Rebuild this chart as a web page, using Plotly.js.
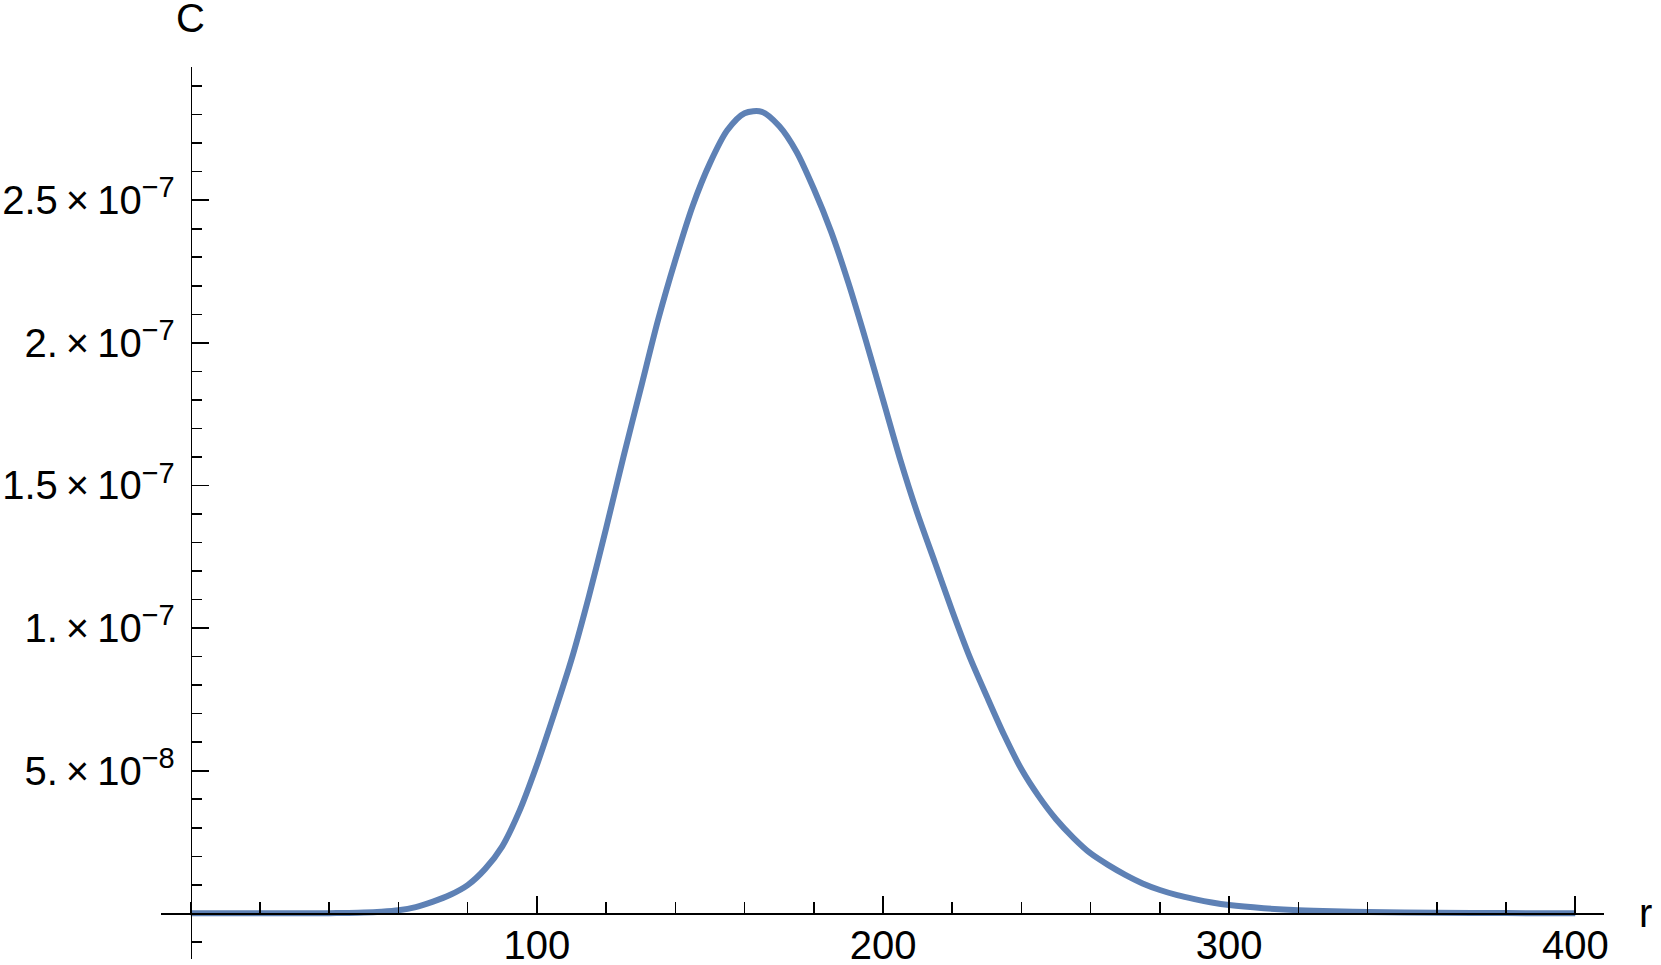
<!DOCTYPE html>
<html>
<head>
<meta charset="utf-8">
<script src="https://cdn.plot.ly/plotly-3.0.1.min.js"></script>
<style>html,body{margin:0;padding:0;background:#fff;}#chart{width:1661px;height:965px;}</style>
</head>
<body>
<div id="chart"></div>
<script>
// ---- data ----
const r = [0, 10, 20, 30, 40, 45, 50, 55, 60, 65, 70, 75, 80, 85, 90, 95, 100, 105, 110, 115, 120, 125, 130, 135, 140, 145, 150, 155, 160, 165, 170, 175, 180, 185, 190, 195, 200, 205, 210, 215, 220, 225, 230, 235, 240, 245, 250, 255, 260, 265, 270, 275, 280, 285, 290, 295, 300, 310, 320, 330, 340, 360, 380, 400];
const C = [0, 0, 0, 0, 0.005e-8, 0.015e-8, 0.03e-8, 0.06e-8, 0.11e-8, 0.22e-8, 0.41e-8, 0.65e-8, 0.99e-8, 1.55e-8, 2.35e-8, 3.6e-8, 5.2e-8, 7.0e-8, 8.9e-8, 11.1e-8, 13.5e-8, 16.0e-8, 18.4e-8, 20.8e-8, 22.9e-8, 24.8e-8, 26.3e-8, 27.45e-8, 28.05e-8, 28.1e-8, 27.6e-8, 26.7e-8, 25.4e-8, 23.9e-8, 22.1e-8, 20.1e-8, 18.0e-8, 15.9e-8, 14.0e-8, 12.3e-8, 10.6e-8, 9.0e-8, 7.6e-8, 6.25e-8, 5.05e-8, 4.1e-8, 3.3e-8, 2.65e-8, 2.1e-8, 1.7e-8, 1.35e-8, 1.05e-8, 0.82e-8, 0.64e-8, 0.5e-8, 0.38e-8, 0.29e-8, 0.18e-8, 0.11e-8, 0.07e-8, 0.05e-8, 0.02e-8, 0.01e-8, 0];

const xTickVals = [100, 200, 300, 400];
const xTickText = ["100", "200", "300", "400"];
const yTickVals = [5e-8, 1e-7, 1.5e-7, 2e-7, 2.5e-7];
const yMantissa = ["5.", "1.", "1.5", "2.", "2.5"];
const yExponent = ["−8", "−7", "−7", "−7", "−7"];
const xTitle = "r";
const yTitle = "C";

// ---- layout ----
const xRange = [-8.6, 408.3];
const yRange = [-1.6e-8, 2.967e-7];
const FONT = "Liberation Sans, Arial, sans-serif";
const FS = 40;
const THIN = "\u2009";

const yTickText = yMantissa.map((m, i) =>
  m + THIN + "×" + THIN + "10<sup><span style=\"font-size:29px\">" + yExponent[i] + "</span></sup>");

const trace = {
  x: r, y: C, type: "scatter", mode: "lines",
  line: {color: "#5E81B5", width: 6, shape: "spline", smoothing: 0.8},
  hoverinfo: "skip"
};

const axisCommon = {
  showline: true, linecolor: "black", linewidth: 1.6,
  ticks: "inside", tickcolor: "black", tickwidth: 1.6, ticklen: 17,
  showgrid: false, zeroline: false,
  tickfont: {family: FONT, size: FS, color: "black"},
  tickmode: "array",
  anchor: "free"
};

const layout = {
  width: 1661, height: 965,
  margin: {l: 161, r: 56.5, t: 66.7, b: 6.3, pad: 0},
  paper_bgcolor: "white", plot_bgcolor: "white",
  showlegend: false,
  xaxis: Object.assign({}, axisCommon, {
    range: xRange,
    position: (0 - yRange[0]) / (yRange[1] - yRange[0]),
    tickvals: xTickVals, ticktext: xTickText,
    ticklabelstandoff: -4,
    minor: {tickmode: "linear", tick0: 0, dtick: 20, ticks: "inside", ticklen: 11, tickwidth: 1.6, tickcolor: "black", showgrid: false}
  }),
  yaxis: Object.assign({}, axisCommon, {
    range: yRange,
    position: (0 - xRange[0]) / (xRange[1] - xRange[0]),
    tickvals: yTickVals, ticktext: yTickText,
    ticklabelstandoff: 8,
    minor: {tickmode: "linear", tick0: 0, dtick: 1e-8, ticks: "inside", ticklen: 10, tickwidth: 1.6, tickcolor: "black", showgrid: false}
  }),
  annotations: [
    {text: yTitle, xref: "x", x: 0, yref: "paper", y: 1, xanchor: "center", yanchor: "middle", yshift: 48.7,
     showarrow: false, font: {family: FONT, size: FS, color: "black"}},
    {text: xTitle, xref: "paper", x: 1, yref: "y", y: 0, xanchor: "left", yanchor: "middle", xshift: 33,
     showarrow: false, font: {family: FONT, size: FS, color: "black"}}
  ]
};

Plotly.newPlot("chart", [trace], layout, {displayModeBar: false, staticPlot: true});
</script>
</body>
</html>
